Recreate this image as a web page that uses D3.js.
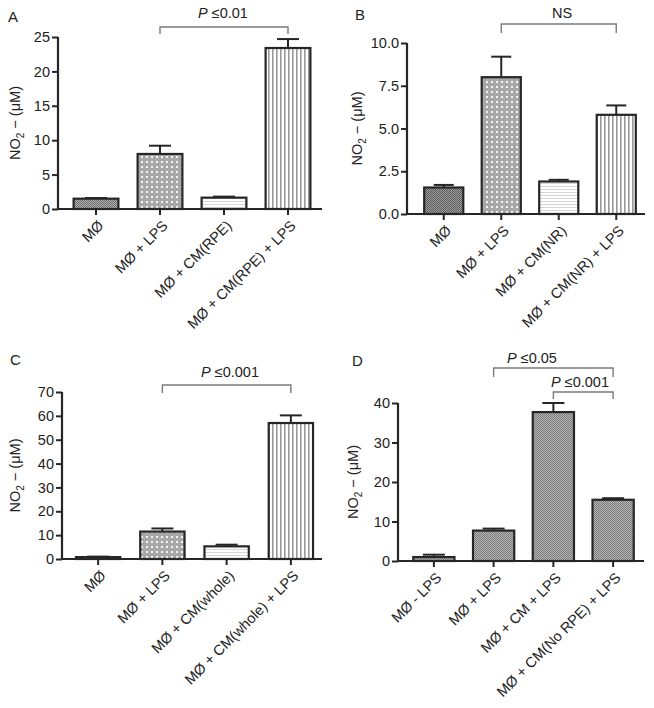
<!DOCTYPE html>
<html><head><meta charset="utf-8">
<script src="https://cdn.jsdelivr.net/npm/d3@7"></script>
<style>
html,body{margin:0;padding:0;background:#fff;}
svg{display:block;font-family:Arial,"Liberation Sans",Helvetica,sans-serif;}
</style></head>
<body>
<svg id="chart" width="654" height="708"></svg>
<script>
// ---------- DATA ----------
const catsA = ["MØ", "MØ + LPS", "MØ + CM(RPE)", "MØ + CM(RPE) + LPS"];
const valsA = [1.5, 8.0, 1.65, 23.4];
const errA  = [1.6, 9.2, 1.8, 24.7];
const ticksA = [0, 5, 10, 15, 20, 25];
const fillsA = ["dense", "checker", "hlines", "vlines"];

const catsB = ["MØ", "MØ + LPS", "MØ + CM(NR)", "MØ + CM(NR) + LPS"];
const valsB = [1.55, 8.0, 1.9, 5.8];
const errB  = [1.7, 9.2, 2.0, 6.35];
const ticksB = [0, 2.5, 5.0, 7.5, 10.0];
const fillsB = ["dark", "checker", "hlines", "vlines"];

const catsC = ["MØ", "MØ + LPS", "MØ + CM(whole)", "MØ + CM(whole) + LPS"];
const valsC = [0.8, 11.5, 5.3, 57.0];
const errC  = [1.0, 12.8, 6.0, 60.2];
const ticksC = [0, 10, 20, 30, 40, 50, 60, 70];
const fillsC = ["dense", "checker", "hlines", "vlines"];

const catsD = ["MØ - LPS", "MØ + LPS", "MØ + CM + LPS", "MØ + CM(No RPE) + LPS"];
const valsD = [1.0, 7.7, 37.7, 15.5];
const errD  = [1.6, 8.2, 40.0, 15.9];
const ticksD = [0, 10, 20, 30, 40];
const fillsD = ["grayD", "grayD", "grayD", "grayD"];

const sigA = [{from: 1, to: 3, label: "≤0.01", italicP: true, level: 0}];
const sigB = [{from: 1, to: 3, label: "NS", italicP: false, level: 0}];
const sigC = [{from: 1, to: 3, label: "≤0.001", italicP: true, level: 0}];
const sigD = [{from: 1, to: 3, label: "≤0.05", italicP: true, level: 0},
              {from: 2, to: 3, label: "≤0.001", italicP: true, level: 1}];

// ---------- LAYOUT ----------
const svg = d3.select("#chart");
const defs = svg.append("defs");

function pat(id, w, h, bg, draw) {
  const p = defs.append("pattern").attr("id", id).attr("patternUnits", "userSpaceOnUse")
    .attr("width", w).attr("height", h);
  p.append("rect").attr("width", w).attr("height", h).attr("fill", bg);
  draw(p);
}
pat("dense", 2, 2, "#b0b0b0", p => { p.append("rect").attr("width",1).attr("height",1).attr("fill","#6e6e6e");
  p.append("rect").attr("x",1).attr("y",1).attr("width",1).attr("height",1).attr("fill","#6e6e6e"); });
pat("dark", 2, 2, "#9a9a9a", p => { p.append("rect").attr("width",1).attr("height",1).attr("fill","#5e5e5e");
  p.append("rect").attr("x",1).attr("y",1).attr("width",1).attr("height",1).attr("fill","#5e5e5e"); });
pat("grayD", 2, 2, "#b4b4b4", p => { p.append("rect").attr("width",1).attr("height",1).attr("fill","#7c7c7c");
  p.append("rect").attr("x",1).attr("y",1).attr("width",1).attr("height",1).attr("fill","#7c7c7c"); });
pat("checker", 5, 5, "#ffffff", p => {
  p.append("rect").attr("width",5).attr("height",5).attr("fill","#a8a8a8");
  p.append("rect").attr("x",1).attr("y",1).attr("width",2).attr("height",2).attr("fill","#f4f4f4"); });
pat("hlines", 3, 3, "#ffffff", p => { p.append("rect").attr("y",0).attr("width",3).attr("height",1).attr("fill","#d6d6d6"); });
pat("vlines", 4, 4, "#ffffff", p => { p.append("rect").attr("x",0).attr("width",1.6).attr("height",4).attr("fill","#9a9a9a"); });

const ink = "#262626";

function panel(cfg) {
  const g = svg.append("g");
  const y = d3.scaleLinear().domain([cfg.ticks[0], cfg.ticks[cfg.ticks.length-1]]).range([cfg.yBot, cfg.yTop]);
  const x = d3.scaleBand().domain(cfg.cats).range(cfg.band).paddingInner(cfg.pad).paddingOuter(cfg.pad/2);

  // bars
  g.selectAll("rect.bar").data(cfg.cats).enter().append("rect")
    .attr("x", d => x(d)).attr("width", x.bandwidth())
    .attr("y", (d,i) => y(cfg.vals[i])).attr("height", (d,i) => y(0) - y(cfg.vals[i]))
    .attr("fill", (d,i) => `url(#${cfg.fills[i]})`)
    .attr("stroke", ink).attr("stroke-width", 2.2);

  // error bars
  const eb = g.selectAll("g.eb").data(cfg.cats).enter().append("g");
  eb.append("line").attr("x1", d => x(d) + x.bandwidth()/2).attr("x2", d => x(d) + x.bandwidth()/2)
    .attr("y1", (d,i) => y(cfg.vals[i])).attr("y2", (d,i) => y(cfg.err[i]))
    .attr("stroke", ink).attr("stroke-width", 2);
  eb.append("line").attr("x1", d => x(d) + x.bandwidth()/2 - cfg.cap).attr("x2", d => x(d) + x.bandwidth()/2 + cfg.cap)
    .attr("y1", (d,i) => y(cfg.err[i])).attr("y2", (d,i) => y(cfg.err[i]))
    .attr("stroke", ink).attr("stroke-width", 2);

  // y axis
  const ya = g.append("g").attr("transform", `translate(${cfg.xAxis},0)`)
    .call(d3.axisLeft(y).tickValues(cfg.ticks).tickSize(6).tickPadding(2)
      .tickFormat(cfg.fmt ? d3.format(cfg.fmt) : d3.format("d")));
  ya.select(".domain").attr("stroke", ink).attr("stroke-width", 2.2).attr("d", `M0,${cfg.yTop}V${cfg.yBot}`);
  ya.selectAll(".tick line").attr("stroke", ink).attr("stroke-width", 2);
  ya.selectAll(".tick text").attr("fill", "#222").attr("font-size", 14.5).attr("font-family", null);

  // x axis
  const xa = g.append("g").attr("transform", `translate(0,${cfg.yBot})`)
    .call(d3.axisBottom(x).tickSize(6).tickFormat(""));
  xa.select(".domain").attr("stroke", ink).attr("stroke-width", 2.2).attr("d", `M${cfg.xAxis - 1},0H${cfg.xEnd}`);
  xa.selectAll(".tick line").attr("stroke", ink).attr("stroke-width", 2);

  // category labels
  g.selectAll("text.cat").data(cfg.cats).enter().append("text")
    .attr("transform", d => `translate(${x(d) + x.bandwidth()/2 + 5},${cfg.yBot + 14}) rotate(-45)`)
    .attr("text-anchor", "end").attr("dy", "0.35em")
    .attr("font-size", 14.5).attr("fill", "#222").text(d => d);

  // y label
  const yl = g.append("text").attr("transform", `translate(${cfg.ylx},${(cfg.yTop + cfg.yBot)/2}) rotate(-90)`)
    .attr("text-anchor", "middle").attr("font-size", 14.5).attr("fill", "#222");
  yl.append("tspan").text("NO");
  yl.append("tspan").attr("font-size", 10).attr("dy", 4).text("2");
  yl.append("tspan").attr("dy", -4).text(" − (μM)");

  // panel letter
  g.append("text").attr("x", cfg.letterX).attr("y", cfg.letterY).attr("font-size", 15).attr("fill", "#222").text(cfg.letter);

  // significance brackets
  cfg.sig.forEach(s => {
    const x1 = x(cfg.cats[s.from]) + x.bandwidth()/2, x2 = x(cfg.cats[s.to]) + x.bandwidth()/2;
    const by = cfg.brY[s.level], tip = cfg.brTip[s.level];
    g.append("path").attr("d", `M${x1},${by + tip}V${by}H${x2}V${by + tip}`)
      .attr("fill", "none").attr("stroke", "#7a7a7a").attr("stroke-width", 1.4);
    const t = g.append("text").attr("x", cfg.labX[s.level]).attr("y", by - cfg.labGap)
      .attr("text-anchor", "middle").attr("font-size", 14.5).attr("fill", "#222");
    if (s.italicP) { t.append("tspan").attr("font-style", "italic").text("P"); t.append("tspan").text(" " + s.label); }
    else t.text(s.label);
  });
}

panel({cats: catsA, vals: valsA, err: errA, ticks: ticksA, fills: fillsA, sig: sigA, letter: "A",
  xAxis: 58, xEnd: 322, band: [64, 320], pad: 0.3, yBot: 209, yTop: 37, cap: 11,
  ylx: 20, letterX: 8, letterY: 22, brY: [27], brTip: [7], labX: [223], labGap: 9});
panel({cats: catsB, vals: valsB, err: errB, ticks: ticksB, fills: fillsB, sig: sigB, letter: "B", fmt: ".1f",
  xAxis: 407, xEnd: 645, band: [415, 645], pad: 0.32, yBot: 214, yTop: 43, cap: 10,
  ylx: 362, letterX: 355, letterY: 20, brY: [24], brTip: [9], labX: [562], labGap: 6});
panel({cats: catsC, vals: valsC, err: errC, ticks: ticksC, fills: fillsC, sig: sigC, letter: "C",
  xAxis: 62, xEnd: 322, band: [66, 323], pad: 0.31, yBot: 559, yTop: 392, cap: 11,
  ylx: 20, letterX: 10, letterY: 365, brY: [385], brTip: [8], labX: [230], labGap: 8});
panel({cats: catsD, vals: valsD, err: errD, ticks: ticksD, fills: fillsD, sig: sigD, letter: "D",
  xAxis: 398, xEnd: 644, band: [404, 643], pad: 0.31, yBot: 561, yTop: 403, cap: 11,
  ylx: 358, letterX: 352, letterY: 366, brY: [368, 392], brTip: [9, 7], labX: [532, 580], labGap: [5]});
</script>
</body></html>
